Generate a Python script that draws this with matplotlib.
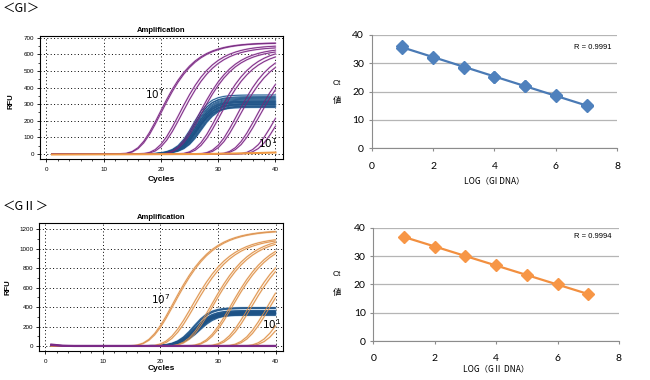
import numpy as np
import matplotlib
matplotlib.use("Agg")
import matplotlib.pyplot as plt
from matplotlib.ticker import MultipleLocator

plt.rcParams['font.family'] = ['Liberation Sans', 'Noto Sans CJK JP', 'DejaVu Sans']

# ---------------- data ----------------
cycles = np.arange(1, 41)

# GI amplification: target curves (purple), 7 dilutions x 2 replicates
gi_target_mid = [19.8, 20.0, 23.2, 23.6, 26.6, 26.9, 29.9, 30.3, 33.3, 33.7, 36.7, 37.1, 40.1, 40.8]
gi_target_plateau = [670, 668, 655, 645, 640, 630, 640, 625, 640, 620, 625, 605, 600, 585]
gi_target_scale = 3.6
# GI internal-control curves (blue)
gi_ic_mid = [25.6, 25.8, 25.9, 26.0, 26.1, 26.1, 26.2, 26.3, 26.3, 26.4,
             26.5, 26.5, 26.6, 26.7, 26.8, 26.9, 27.0, 26.2, 25.7, 26.4]
gi_ic_plateau = [355, 345, 335, 330, 325, 320, 318, 315, 312, 310,
                 305, 300, 298, 295, 290, 288, 285, 280, 340, 302]
gi_ic_scale = 1.45
# GI negative-control trace (orange, near zero)
gi_neg_cycles = [1, 10, 20, 28, 33, 37, 40]
gi_neg_rfu = [-3, -2, -1, 0, 3, 6, 9]

# GII amplification: target curves (orange)
gii_target_mid = [22.2, 22.4, 25.5, 25.9, 28.8, 29.1, 32.2, 32.5, 35.4, 35.8, 38.6, 39.0, 42.0, 42.6]
gii_target_plateau = [1190, 1185, 1120, 1110, 1130, 1115, 1120, 1105, 1100, 1085, 1100, 1080, 1080, 1060]
gii_target_scale = 4.0
# GII internal-control curves (blue)
gii_ic_mid = [25.7, 25.8, 25.9, 26.0, 26.0, 26.1, 26.1, 26.2, 26.2, 26.3, 26.3,
              26.4, 26.4, 26.5, 26.5, 26.6, 26.7, 26.8, 25.9, 26.2, 26.4, 26.0]
gii_ic_plateau = [395, 390, 385, 365, 360, 355, 350, 348, 345, 342, 340,
                  338, 335, 332, 330, 328, 325, 320, 315, 345, 352, 337]
gii_ic_scale = 1.45
# GII negative-control traces (purple, near zero)
gii_neg_cycles = [1, 2, 3, 5, 40]
gii_neg_rfu_a = [18, 12, 6, 4, 4]
gii_neg_rfu_b = [12, 8, 3, 1, 1]
gii_neg_rfu_c = [8, 4, 0, -2, -2]

# Standard curves
log_dna = [1, 2, 3, 4, 5, 6, 7]
gi_ct_rep1 = [36.2, 32.3, 28.7, 25.3, 22.1, 18.7, 15.2]
gi_ct_rep2 = [35.5, 32.0, 28.5, 25.1, 21.9, 18.5, 15.1]
gii_ct = [36.7, 33.3, 30.1, 26.7, 23.2, 20.0, 16.5]
gi_r_text = "R = 0.9991"
gii_r_text = "R = 0.9994"

# ---------------- helpers ----------------
def gompertz(c, mid, plateau, scale):
    return plateau * np.exp(-np.exp(-(c - mid) / scale))

def logistic(c, mid, plateau, scale):
    return plateau / (1.0 + np.exp(-(c - mid) / scale))

def halo_line(ax, x, y, core, halo, lw_core=0.6, lw_halo=1.3):
    ax.plot(x, y, color=halo, lw=lw_halo, solid_capstyle='round', zorder=2)
    ax.plot(x, y, color=core, lw=lw_core, solid_capstyle='round', zorder=3)

def style_amp(ax, ymax_tick, ystep, ylim):
    ax.set_xlim(-1.1, 41.3)
    ax.set_ylim(*ylim)
    ax.set_xticks([0, 10, 20, 30, 40])
    ax.set_yticks(np.arange(0, ymax_tick + 1, ystep))
    ax.xaxis.set_minor_locator(MultipleLocator(2))
    ax.yaxis.set_minor_locator(MultipleLocator(ystep / 2))
    ax.tick_params(axis='both', which='major', labelsize=4.5, length=2.5, width=0.6, pad=1.5)
    ax.tick_params(axis='both', which='minor', length=1.5, width=0.5)
    ax.tick_params(axis='x', pad=3)
    ax.grid(True, which='major', color='black', linestyle=(0, (1, 2.5)), lw=0.7)
    for s in ax.spines.values():
        s.set_linewidth(0.8)
    ax.set_title('Amplification', fontsize=5.5, fontweight='bold', pad=3)

def style_std(ax):
    ax.set_xlim(0, 8)
    ax.set_ylim(0, 40)
    ax.set_xticks([0, 2, 4, 6, 8])
    ax.set_yticks([0, 10, 20, 30, 40])
    for side in ['top', 'right']:
        ax.spines[side].set_visible(False)
    for side in ['left', 'bottom']:
        ax.spines[side].set_color('#8c8c8c')
        ax.spines[side].set_linewidth(0.8)
    ax.grid(True, axis='y', color='#b5b5b5', lw=0.9)
    ax.set_axisbelow(True)
    ax.tick_params(axis='both', colors='#8c8c8c', length=2.5, width=0.8, labelcolor='black',
                   labelsize=7.5)
    ax.tick_params(axis='x', pad=7)
    ax.tick_params(axis='y', pad=3)
    for lab in ax.get_xticklabels() + ax.get_yticklabels():
        lab.set_fontfamily(['Lato', 'DejaVu Sans'])

fig = plt.figure(figsize=(6.5, 3.8), dpi=100)

purple_core, purple_halo = '#74267c', '#dcb3e0'
blue_core, blue_halo = '#1d5286', '#b4d0e8'
orange_core, orange_halo = '#dc8f4b', '#f8dcbc'

# ---------------- GI amplification ----------------
ax1 = fig.add_axes([0.0615, 0.5816, 0.3738, 0.3237])
style_amp(ax1, 700, 100, (-30, 710))
for m, p in zip(gi_ic_mid, gi_ic_plateau):
    halo_line(ax1, cycles, logistic(cycles, m, p, gi_ic_scale), blue_core, blue_halo)
for m, p in zip(gi_target_mid, gi_target_plateau):
    halo_line(ax1, cycles, gompertz(cycles, m, p, gi_target_scale), purple_core, purple_halo)
ax1.plot(gi_neg_cycles, gi_neg_rfu, color='#ef9a45', lw=1.5, zorder=4)
ax1.set_ylabel('RFU', fontsize=5.5, fontweight='bold')
ax1.yaxis.set_label_coords(-0.103, 0.47)
ax1.text(0.5, -0.17, 'Cycles', transform=ax1.transAxes, fontsize=6, fontweight='bold',
         ha='center', va='center')
ax1.text(17.2, 360, '$10^7$', fontsize=7.5, ha='left', va='center', zorder=5)
ax1.text(36.9, 64, '$10^1$', fontsize=7.5, ha='left', va='center', zorder=5)

# ---------------- GII amplification ----------------
ax2 = fig.add_axes([0.06, 0.0763, 0.3754, 0.3368])
style_amp(ax2, 1200, 200, (-51, 1262))
for m, p in zip(gii_ic_mid, gii_ic_plateau):
    halo_line(ax2, cycles, logistic(cycles, m, p, gii_ic_scale), blue_core, blue_halo)
for m, p in zip(gii_target_mid, gii_target_plateau):
    halo_line(ax2, cycles, gompertz(cycles, m, p, gii_target_scale), orange_core, orange_halo)
for vals in (gii_neg_rfu_a, gii_neg_rfu_b, gii_neg_rfu_c):
    ax2.plot(gii_neg_cycles, vals, color='#7a2a86', lw=1.2, zorder=4)
ax2.set_ylabel('RFU', fontsize=5.5, fontweight='bold')
ax2.yaxis.set_label_coords(-0.113, 0.5)
ax2.text(0.5, -0.14, 'Cycles', transform=ax2.transAxes, fontsize=6, fontweight='bold',
         ha='center', va='center')
ax2.text(18.4, 482, '$10^7$', fontsize=7.5, ha='left', va='center', zorder=5)
ax2.text(37.6, 228, '$10^1$', fontsize=7.5, ha='left', va='center', zorder=5)

# ---------------- GI standard curve ----------------
ax3 = fig.add_axes([0.5718, 0.6097, 0.3778, 0.2982])
style_std(ax3)
xs = np.array(log_dna * 2, dtype=float)
ys = np.array(gi_ct_rep1 + gi_ct_rep2, dtype=float)
k, b = np.polyfit(xs, ys, 1)
xl = np.array([log_dna[0], log_dna[-1]], dtype=float)
ax3.plot(xl, k * xl + b, color='#4a7ab5', lw=1.6, zorder=3)
ax3.plot(log_dna, gi_ct_rep2, 'D', color='#4f81bd', ms=5.8, zorder=4)
ax3.plot(log_dna, gi_ct_rep1, 'D', color='#4f81bd', ms=5.8, zorder=4)
ax3.text(0.5, -0.285, 'LOG（GI DNA）', transform=ax3.transAxes, fontsize=6, ha='center', va='center',
         family=['Noto Sans CJK JP', 'DejaVu Sans'])
ax3.text(-0.141, 0.576, 'Ct', transform=ax3.transAxes, fontsize=6, ha='center', va='center')
ax3.text(-0.141, 0.426, '値', transform=ax3.transAxes, fontsize=6, ha='center', va='center',
         family=['Noto Sans CJK JP', 'DejaVu Sans'])
ax3.text(0.901, 0.894, gi_r_text, transform=ax3.transAxes, fontsize=5.5, ha='center', va='center')

# ---------------- GII standard curve ----------------
ax4 = fig.add_axes([0.5743, 0.1026, 0.378, 0.2982])
style_std(ax4)
k2, b2 = np.polyfit(np.array(log_dna, float), np.array(gii_ct, float), 1)
ax4.plot(xl, k2 * xl + b2, color='#f28f3f', lw=1.6, zorder=3)
ax4.plot(log_dna, gii_ct, 'D', color='#f79646', ms=5.8, zorder=4)
ax4.text(0.5, -0.24, 'LOG（GⅡ DNA）', transform=ax4.transAxes, fontsize=6, ha='center', va='center',
         family=['Noto Sans CJK JP', 'DejaVu Sans'])
ax4.text(-0.148, 0.591, 'Ct', transform=ax4.transAxes, fontsize=6, ha='center', va='center')
ax4.text(-0.148, 0.432, '値', transform=ax4.transAxes, fontsize=6, ha='center', va='center',
         family=['Noto Sans CJK JP', 'DejaVu Sans'])
ax4.text(0.894, 0.918, gii_r_text, transform=ax4.transAxes, fontsize=5.5, ha='center', va='center')

# ---------------- panel headings ----------------
fig.text(0.004, 0.995, '＜GI＞', fontsize=9, ha='left', va='top',
         family=['Noto Sans CJK JP', 'DejaVu Sans'])
fig.text(0.004, 0.475, '＜GⅡ＞', fontsize=9, ha='left', va='top',
         family=['Noto Sans CJK JP', 'DejaVu Sans'])

fig.savefig('out.png', dpi=100)
